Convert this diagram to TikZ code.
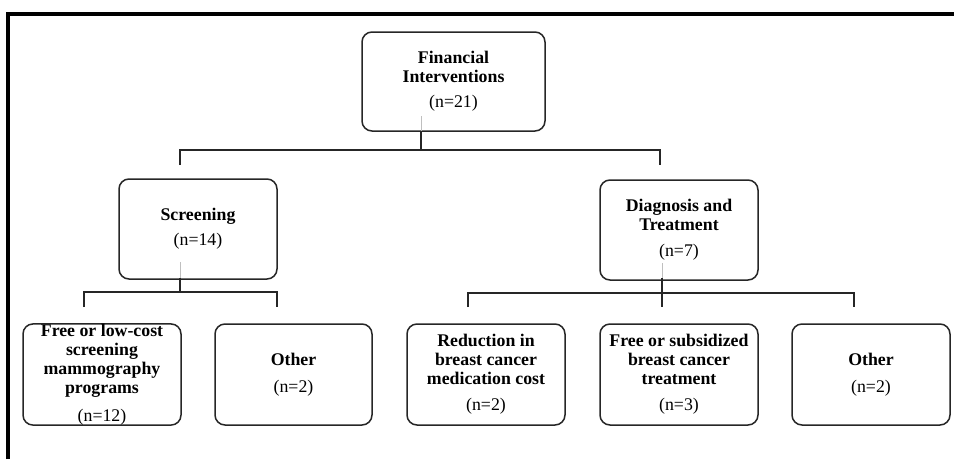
\documentclass[tikz,border=0pt]{standalone}
\usepackage{fontspec}
\setmainfont{Liberation Serif}
\begin{document}
\begin{tikzpicture}[x=1pt,y=-1pt,
  box/.style={draw=black!85, line width=1.5pt, rounded corners=10pt, align=center,
    inner sep=0pt, font=\fontsize{17.8}{19}\selectfont},
  conn/.style={draw=black!85, line width=1.6pt},
  inner/.style={draw=black!25, line width=1pt},
  frame/.style={line width=4pt, draw=black}]
\useasboundingbox (0,0) rectangle (954,459);
\draw[frame] (8,459) -- (8,13.5) -- (954,13.5);

% boxes
\node[box, minimum width=183pt, minimum height=99pt] (fin) at (453.5,81.5)
  {\textbf{Financial}\\\textbf{Interventions}\\[6pt](n=21)};
\node[box, minimum width=158pt, minimum height=100pt] (scr) at (198,229)
  {\textbf{Screening}\\[6pt](n=14)};
\node[box, minimum width=158pt, minimum height=100pt] (dia) at (679,230)
  {\textbf{Diagnosis and}\\\textbf{Treatment}\\[7pt](n=7)};
\node[box, minimum width=158pt, minimum height=101pt] (free) at (102,374.5)
  {\textbf{Free or low-cost}\\\textbf{screening}\\\textbf{mammography}\\\textbf{programs}\\[9pt](n=12)};
\node[box, minimum width=157pt, minimum height=101pt] (oth1) at (293.5,374.5)
  {\textbf{Other}\\[8pt](n=2)};
\node[box, minimum width=158pt, minimum height=101pt] (red) at (486,374.5)
  {\textbf{Reduction in}\\\textbf{breast cancer}\\\textbf{medication cost}\\[7pt](n=2)};
\node[box, minimum width=158pt, minimum height=101pt] (sub) at (679,374.5)
  {\textbf{Free or subsidized}\\\textbf{breast cancer}\\\textbf{treatment}\\[7pt](n=3)};
\node[box, minimum width=158pt, minimum height=101pt] (oth2) at (871,374.5)
  {\textbf{Other}\\[8pt](n=2)};

% junction coordinates
\coordinate (f0) at (421,116);
\coordinate (f1) at (421,131);
\coordinate (f2) at (421,150);
\coordinate (fl) at (180,150);
\coordinate (fr) at (660,150);
\coordinate (fld) at (180,165);
\coordinate (frd) at (660,165);

\coordinate (s0) at (180,262);
\coordinate (s1) at (180,278);
\coordinate (s2) at (180,292);
\coordinate (sl) at (84,292);
\coordinate (sr) at (277,292);
\coordinate (sld) at (84,307);
\coordinate (srd) at (277,307);

\coordinate (d0) at (662,263);
\coordinate (d1) at (662,278);
\coordinate (d2) at (662,293);
\coordinate (dl) at (468,293);
\coordinate (dr) at (854,293);
\coordinate (dld) at (468,307);
\coordinate (dmd) at (662,307);
\coordinate (drd) at (854,307);

% connectors
\draw[inner] (f0) -- (f1);
\draw[conn] (f1) -- (f2);
\draw[conn] (fld) -- (fl) -- (fr) -- (frd);

\draw[inner] (s0) -- (s1);
\draw[conn] (s1) -- (s2);
\draw[conn] (sld) -- (sl) -- (sr) -- (srd);

\draw[inner] (d0) -- (d1);
\draw[conn] (d1) -- (dmd);
\draw[conn] (dld) -- (dl) -- (dr) -- (drd);
\end{tikzpicture}
\end{document}
